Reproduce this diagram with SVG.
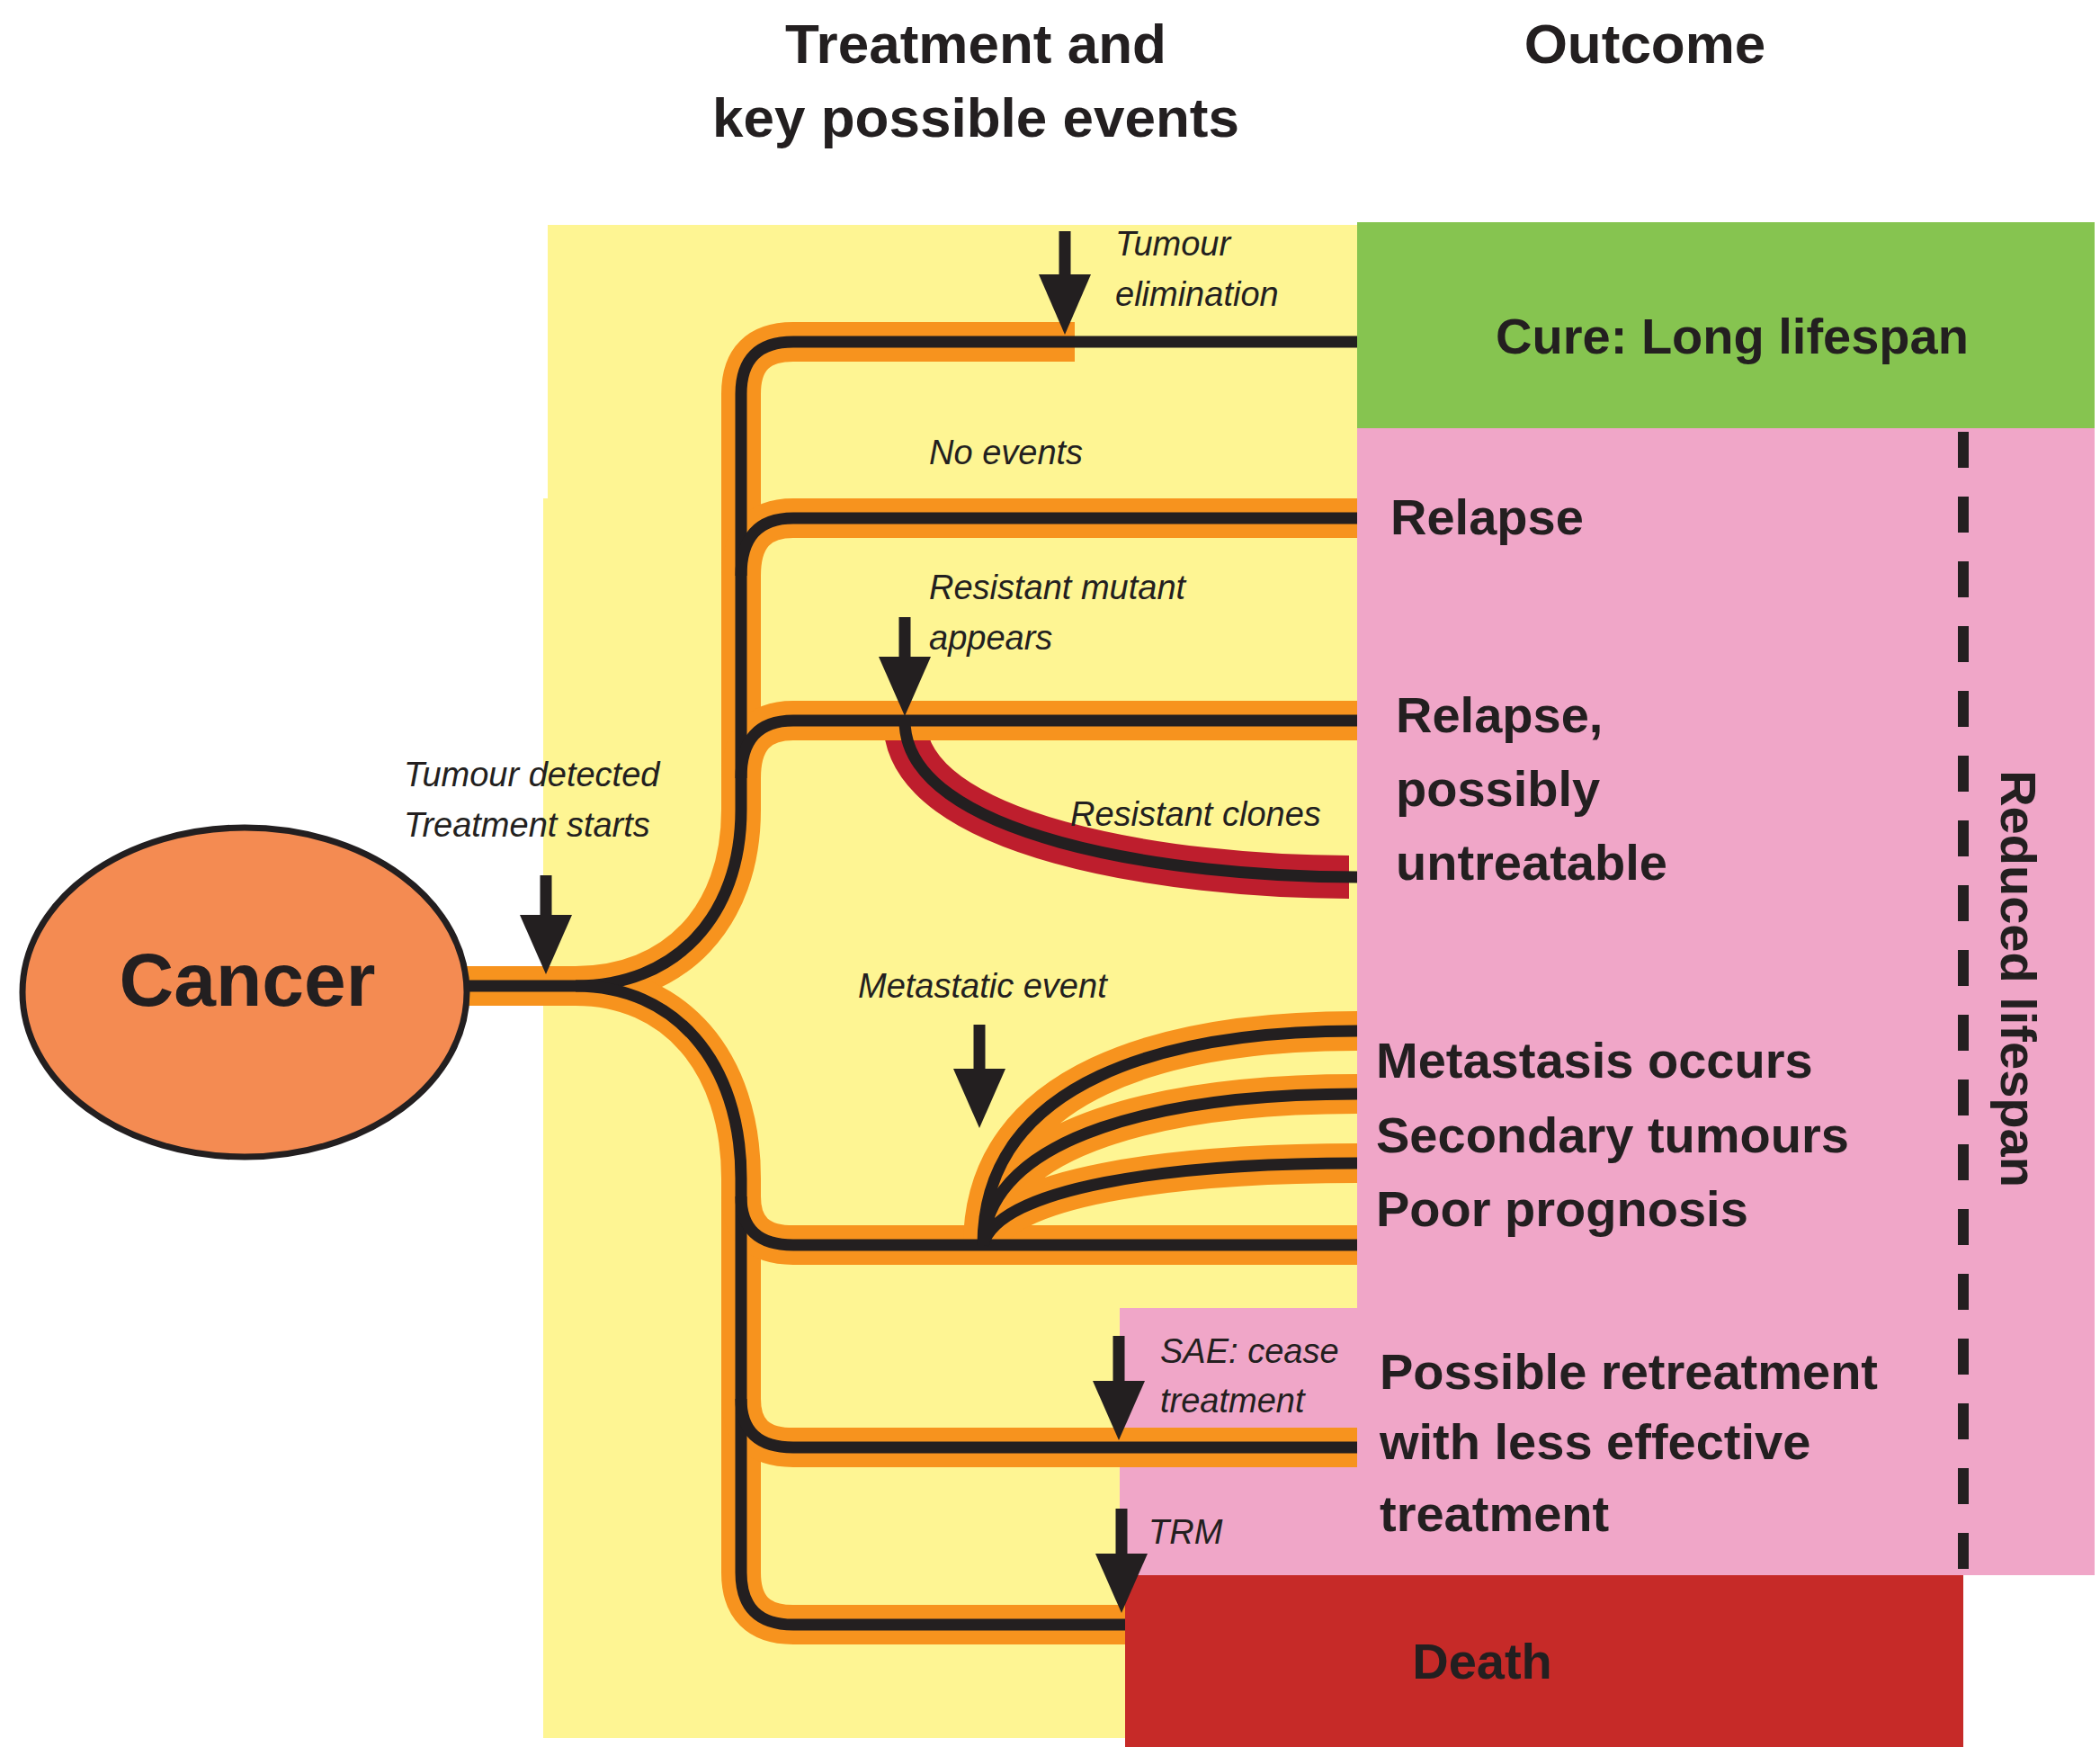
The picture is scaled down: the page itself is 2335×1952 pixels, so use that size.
<svg xmlns="http://www.w3.org/2000/svg" width="2335" height="1952" viewBox="0 0 2335 1952">
<style>
.or{fill:none;stroke:#F7931E;stroke-width:44}
.bk{fill:none;stroke:#231F20;stroke-width:13}
.rd{fill:none;stroke:#BE1E2D;stroke-width:48}
.ar{fill:#231F20}
.as{stroke:#231F20;stroke-width:13}
.h{font-family:"Liberation Sans",Arial,sans-serif;font-weight:bold;fill:#231F20}
.it{font-family:"Liberation Sans",Arial,sans-serif;font-style:italic;font-size:38px;fill:#231F20}
.lb{font-family:"Liberation Sans",Arial,sans-serif;font-weight:bold;font-size:56px;fill:#231F20}
</style>
<rect id="bg" x="0" y="0" width="2335" height="1952" fill="#fff"/>
<g id="regions">
<rect x="609" y="250" width="900" height="310" fill="#FEF593"/>
<rect x="604" y="554" width="905" height="1378" fill="#FEF593"/>
<rect x="1509" y="476" width="820" height="1275" fill="#F0A6C8"/>
<rect x="1245" y="1454" width="264" height="297" fill="#F0A6C8"/>
<line x1="2183" y1="480" x2="2183" y2="1744" stroke="#231F20" stroke-width="12" stroke-dasharray="40,32"/>
</g>
<g id="cure"><rect x="1509" y="247" width="820" height="229" fill="#86C450"/><text class="lb" x="1926" y="393" text-anchor="middle">Cure: Long lifespan</text></g>
<g id="death"><rect x="1251" y="1751" width="932" height="191" fill="#C62A28"/><text class="lb" x="1648" y="1866" text-anchor="middle">Death</text></g>
<g id="connectors">
<path class="rd" d="M1006,801 C1006,930 1300,975 1500,975"/>
<path class="or" d="M519,1096 L640,1096 C750,1096 824,1020 824,900 L824,438 Q824,380 882,380 L1195,380"/>
<path class="or" d="M640,1096 C750,1096 824,1180 824,1310 L824,1748 Q824,1806 882,1806 L1251,1806"/>
<path class="or" d="M824,640 Q824,576 882,576 L1509,576 M824,865 Q824,801 882,801 L1509,801 M824,1330 Q824,1384 882,1384 L1509,1384 M824,1555 Q824,1609 882,1609 L1509,1609"/>
<path class="or" d="M1093,1384 C1093,1200 1300,1146 1509,1146 M1093,1384 C1100,1260 1300,1216 1509,1216 M1093,1384 C1110,1320 1300,1293 1509,1293"/>
<path class="bk" d="M519,1096 L640,1096 C750,1096 824,1020 824,900 L824,438 Q824,380 882,380 L1509,380"/>
<path class="bk" d="M640,1096 C750,1096 824,1180 824,1310 L824,1748 Q824,1806 882,1806 L1251,1806"/>
<path class="bk" d="M824,640 Q824,576 882,576 L1509,576 M824,865 Q824,801 882,801 L1509,801 M824,1330 Q824,1384 882,1384 L1509,1384 M824,1555 Q824,1609 882,1609 L1509,1609"/>
<path class="bk" d="M1093,1384 C1093,1200 1300,1146 1509,1146 M1093,1384 C1100,1260 1300,1216 1509,1216 M1093,1384 C1110,1320 1300,1293 1509,1293"/>
<path class="bk" d="M1006,801 C1006,930 1300,975 1509,975"/>
</g>
<g id="arrows">
<line class="as" x1="1184" y1="257" x2="1184" y2="320"/><polygon class="ar" points="1155,305 1213,305 1184,372"/>
<line class="as" x1="1006" y1="686" x2="1006" y2="745"/><polygon class="ar" points="977,730 1035,730 1006,796"/>
<line class="as" x1="607" y1="973" x2="607" y2="1030"/><polygon class="ar" points="578,1017 636,1017 607,1083"/>
<line class="as" x1="1089" y1="1139" x2="1089" y2="1200"/><polygon class="ar" points="1060,1188 1118,1188 1089,1254"/>
<line class="as" x1="1244" y1="1485" x2="1244" y2="1545"/><polygon class="ar" points="1215,1535 1273,1535 1244,1601"/>
<line class="as" x1="1247" y1="1677" x2="1247" y2="1740"/><polygon class="ar" points="1218,1727 1276,1727 1247,1793"/>
</g>
<g id="cancer"><ellipse cx="272" cy="1103" rx="247" ry="183" fill="#F48B52" stroke="#231F20" stroke-width="7"/><text class="h" x="275" y="1118" font-size="84" text-anchor="middle">Cancer</text></g>
<g id="headers">
<text class="h" font-size="62" x="1085" y="70" text-anchor="middle">Treatment and</text>
<text class="h" font-size="62" x="1085" y="152" text-anchor="middle">key possible events</text>
<text class="h" font-size="62" x="1829" y="70" text-anchor="middle">Outcome</text>
</g>
<g id="outcomes">
<text class="lb" x="1546" y="594">Relapse</text>
<text class="lb" x="1552" y="814">Relapse,</text>
<text class="lb" x="1552" y="896">possibly</text>
<text class="lb" x="1552" y="978">untreatable</text>
<text class="lb" x="1530" y="1198">Metastasis occurs</text>
<text class="lb" x="1530" y="1281">Secondary tumours</text>
<text class="lb" x="1530" y="1363">Poor prognosis</text>
<text class="lb" x="1534" y="1544">Possible retreatment</text>
<text class="lb" x="1534" y="1622">with less effective</text>
<text class="lb" x="1534" y="1702">treatment</text>
<text class="lb" transform="translate(2225,1088) rotate(90)" text-anchor="middle">Reduced lifespan</text>
</g>
<g id="events">
<text class="it" x="1240" y="284">Tumour</text>
<text class="it" x="1240" y="340">elimination</text>
<text class="it" x="1033" y="516">No events</text>
<text class="it" x="1033" y="666">Resistant mutant</text>
<text class="it" x="1033" y="722">appears</text>
<text class="it" x="1190" y="918">Resistant clones</text>
<text class="it" x="449" y="874">Tumour detected</text>
<text class="it" x="449" y="930">Treatment starts</text>
<text class="it" x="954" y="1109">Metastatic event</text>
<text class="it" x="1290" y="1515">SAE: cease</text>
<text class="it" x="1290" y="1570">treatment</text>
<text class="it" x="1277" y="1716">TRM</text>
</g>
</svg>
